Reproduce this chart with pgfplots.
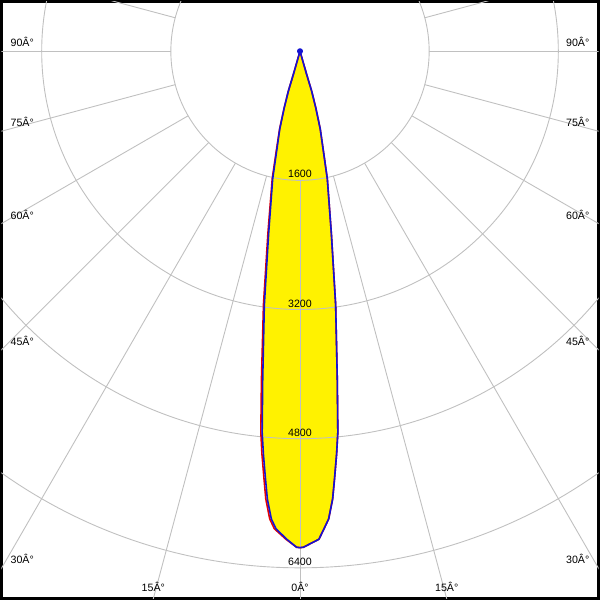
\documentclass[border=0pt]{standalone}
\usepackage{pgfplots}
\pgfplotsset{compat=1.18}
\usepackage{fontspec}
\setmainfont{Liberation Sans}
\definecolor{gridc}{RGB}{192,192,192}
\definecolor{lobeblue}{RGB}{20,20,210}
\definecolor{lobered}{RGB}{230,0,0}
\begin{document}
\begin{tikzpicture}
\begin{axis}[
  width=600pt, height=600pt, scale only axis,
  xmin=-3698, xmax=3698, ymin=-6780, ymax=616,
  axis lines=box, ticks=none,
  axis line style={black, line width=3pt},
  clip=true,
]
% blue plane (C90-C270): angle (deg, 270 = straight down), intensity (cd)
\addplot[fill=yellow, draw=none, forget plot] table[data cs=polar] {
a r
250 0
254.0 299
253.7 514
254.4 726
255.4 994
256.8 1266
257.9 1614
260.23 2289
262.0 3174
263.52 4094
264.33 4745
264.81 5013
265.39 5318
265.83 5562
266.49 5805
267.12 5924
268.45 6049
269.6 6145
270 6150
270.4 6145
272.22 6051
272.88 5924
273.51 5805
274.17 5562
274.61 5318
275.19 5013
275.67 4745
276.48 4094
278.0 3174
279.77 2289
282.1 1614
283.2 1266
284.6 994
285.6 726
286.3 514
286.0 299
290 0
};
% grid circles and rays
\draw[gridc, line width=0.9pt] (axis cs:0,0) circle[radius=1600];
\draw[gridc, line width=0.9pt] (axis cs:0,0) circle[radius=3200];
\draw[gridc, line width=0.9pt] (axis cs:0,0) circle[radius=4800];
\draw[gridc, line width=0.9pt] (axis cs:0,0) circle[radius=6400];
\pgfplotsinvokeforeach{0,15,...,345}{
  \draw[gridc, line width=0.9pt] (axis cs:{1600*cos(#1)},{1600*sin(#1)}) -- (axis cs:{10000*cos(#1)},{10000*sin(#1)});
}
% red plane (C0-C180)
\addplot[lobered, line width=1.6pt, line join=round] table[data cs=polar] {
a r
250 0
254.0 299
253.7 514
254.4 726
255.3 994
256.6 1266
257.7 1614
260.0 2289
261.8 3174
263.3 4094
264.13 4745
264.6 5013
265.19 5318
265.63 5562
266.29 5805
266.92 5924
268.35 6049
269.6 6145
270 6150
270.4 6145
272.22 6051
272.88 5924
273.51 5805
274.17 5562
274.61 5318
275.19 5013
275.67 4745
276.48 4094
278.0 3174
279.77 2289
282.1 1614
283.2 1266
284.6 994
285.6 726
286.3 514
286.0 299
290 0
};
% blue plane outline
\addplot[lobeblue, line width=1.6pt, line join=round, mark=*, mark size=2.2pt, mark indices={1}] table[data cs=polar] {
a r
250 0
254.0 299
253.7 514
254.4 726
255.4 994
256.8 1266
257.9 1614
260.23 2289
262.0 3174
263.52 4094
264.33 4745
264.81 5013
265.39 5318
265.83 5562
266.49 5805
267.12 5924
268.45 6049
269.6 6145
270 6150
270.4 6145
272.22 6051
272.88 5924
273.51 5805
274.17 5562
274.61 5318
275.19 5013
275.67 4745
276.48 4094
278.0 3174
279.77 2289
282.1 1614
283.2 1266
284.6 994
285.6 726
286.3 514
286.0 299
290 0
};
% intensity labels
\begin{scope}[every node/.style={inner sep=0pt, font=\fontsize{10.7}{12}\selectfont}]
\node[anchor=base] at (axis cs:0,-1569) {1600};
\node[anchor=base] at (axis cs:0,-3169) {3200};
\node[anchor=base] at (axis cs:0,-4769) {4800};
\node[anchor=base] at (axis cs:0,-6369) {6400};
% angle labels (left)
\node[anchor=base west] at (rel axis cs:0.015,0.92417) {90Â°};
\node[anchor=base west] at (rel axis cs:0.015,0.79083) {75Â°};
\node[anchor=base west] at (rel axis cs:0.015,0.6355) {60Â°};
\node[anchor=base west] at (rel axis cs:0.015,0.42417) {45Â°};
\node[anchor=base west] at (rel axis cs:0.015,0.05833) {30Â°};
% angle labels (right)
\node[anchor=base east] at (rel axis cs:0.985,0.92417) {90Â°};
\node[anchor=base east] at (rel axis cs:0.985,0.79083) {75Â°};
\node[anchor=base east] at (rel axis cs:0.985,0.6355) {60Â°};
\node[anchor=base east] at (rel axis cs:0.985,0.42417) {45Â°};
\node[anchor=base east] at (rel axis cs:0.985,0.05833) {30Â°};
% angle labels (bottom)
\node[anchor=base] at (rel axis cs:0.2543,0.01167) {15Â°};
\node[anchor=base] at (rel axis cs:0.5,0.01167) {0Â°};
\node[anchor=base] at (rel axis cs:0.7457,0.01167) {15Â°};
\end{scope}
\end{axis}
\end{tikzpicture}
\end{document}
